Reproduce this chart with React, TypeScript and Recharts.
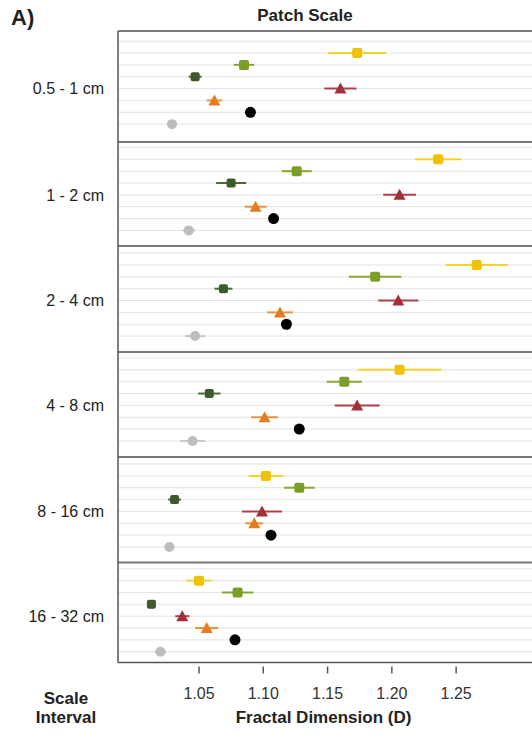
import { ScatterChart, Scatter, XAxis, YAxis, ZAxis, ErrorBar, ReferenceLine } from 'recharts'

const intervals = ['0.5 - 1 cm', '1 - 2 cm', '2 - 4 cm', '4 - 8 cm', '8 - 16 cm', '16 - 32 cm']
const xTicks = [1.05, 1.1, 1.15, 1.2, 1.25]

// fractal dimension per interval (top to bottom), and the half-width of each error bar
const yellowD = [1.173, 1.236, 1.266, 1.206, 1.102, 1.05]
const yellowErr = [0.0225, 0.018, 0.024, 0.0325, 0.0134, 0.0097]
const lightGreenD = [1.085, 1.126, 1.187, 1.163, 1.128, 1.08]
const lightGreenErr = [0.008, 0.0117, 0.0204, 0.0136, 0.012, 0.0123]
const darkGreenD = [1.047, 1.075, 1.069, 1.058, 1.031, 1.013]
const darkGreenErr = [0.005, 0.0117, 0.007, 0.0087, 0.005, 0.002]
const redD = [1.16, 1.206, 1.205, 1.173, 1.099, 1.037]
const redErr = [0.0125, 0.0127, 0.0156, 0.0175, 0.0156, 0.0055]
const orangeD = [1.062, 1.094, 1.113, 1.101, 1.093, 1.056]
const orangeErr = [0.006, 0.0085, 0.01, 0.0104, 0.007, 0.009]
const blackD = [1.09, 1.108, 1.118, 1.128, 1.106, 1.078]
const blackErr = [0.002, 0.002, 0.002, 0.002, 0.002, 0.002]
const greyD = [1.029, 1.042, 1.047, 1.045, 1.027, 1.02]
const greyErr = [0.004, 0.005, 0.0078, 0.0095, 0.004, 0.0045]

// vertical layout in row units (top = 0)
const panelTop = [0, 9.37, 18.14, 27.09, 35.95, 44.85]
const firstRow = [1.86, 10.83, 19.75, 28.6, 37.55, 46.39]
const yMax = 53.3

const FONT = '"Liberation Sans", Arial, sans-serif'

type ShapeProps = { cx?: number; cy?: number }

const square = (fill: string, s = 10) => (p: ShapeProps) =>
  <rect x={(p.cx ?? 0) - s / 2} y={(p.cy ?? 0) - s / 2} width={s} height={s} rx={2} fill={fill} />
const triangle = (fill: string) => (p: ShapeProps) => {
  const cx = p.cx ?? 0, cy = p.cy ?? 0
  return <polygon points={`${cx - 6},${cy + 5} ${cx + 6},${cy + 5} ${cx},${cy - 6}`} fill={fill} />
}
const circle = (fill: string, r = 5) => (p: ShapeProps) =>
  <circle cx={p.cx ?? 0} cy={p.cy ?? 0} r={r} fill={fill} />

const series = [
  { name: 'yellow', d: yellowD, e: yellowErr, color: '#f2c200', bar: '#f6d22e', shape: square('#f2c200') },
  { name: 'lightGreen', d: lightGreenD, e: lightGreenErr, color: '#7b9e28', bar: '#86a832', shape: square('#7b9e28') },
  { name: 'darkGreen', d: darkGreenD, e: darkGreenErr, color: '#3e5a2a', bar: '#4d6a36', shape: square('#3e5a2a', 9) },
  { name: 'red', d: redD, e: redErr, color: '#a2303a', bar: '#b04048', shape: triangle('#a2303a') },
  { name: 'orange', d: orangeD, e: orangeErr, color: '#e27d22', bar: '#eb9240', shape: triangle('#e27d22') },
  { name: 'black', d: blackD, e: blackErr, color: '#000000', bar: '#000000', shape: circle('#000000', 5.5) },
  { name: 'grey', d: greyD, e: greyErr, color: '#bdbdbd', bar: '#c8c8c8', shape: circle('#bdbdbd', 5) },
]

const labelTicks = firstRow.map(r => r + 3)
const gridRows = firstRow.flatMap(r => [-1, 0, 1, 2, 3, 4, 5, 6].map(i => r + i))

const XTick = ({ x, y, payload }: { x?: number; y?: number; payload?: { value: number } }) => (
  <g>
    <line x1={x} x2={x} y1={(y ?? 0) + 4} y2={(y ?? 0) + 11} stroke="#555" strokeWidth={1.5} />
    <text x={x} y={(y ?? 0) + 36} textAnchor="middle" fontSize={16} fill="#333" fontFamily={FONT}>
      {payload?.value.toFixed(2)}
    </text>
  </g>
)

export default function App() {
  return (
    <div style={{ position: 'absolute', left: 0, top: 0, width: 532, height: 740, overflow: 'hidden', background: '#fff' }}>
      <ScatterChart width={532} height={740} margin={{ top: 31, right: 0, bottom: 27.5, left: 0 }}>
        <XAxis type="number" dataKey="d" domain={[0.987, 1.309]} ticks={xTicks} allowDataOverflow
          height={50} tickSize={0} tickMargin={0} tickLine={false} tick={<XTick />}
          axisLine={{ stroke: '#555', strokeWidth: 1.5 }} />
        <YAxis type="number" dataKey="y" domain={[0, yMax]} reversed allowDataOverflow width={118}
          ticks={labelTicks} tickFormatter={v => intervals[labelTicks.indexOf(v)] ?? ''}
          tickLine={false} tickMargin={8} interval={0}
          tick={{ fontSize: 16, fill: '#222', fontFamily: FONT }}
          axisLine={{ stroke: '#555', strokeWidth: 1.5 }} />
        <ZAxis range={[60, 60]} />
        {gridRows.map(v => <ReferenceLine key={'g' + v} y={v} stroke="#e3e3e3" strokeWidth={1} />)}
        {panelTop.map(v => <ReferenceLine key={'p' + v} y={v} stroke="#7a7a7a" strokeWidth={2} />)}
        {series.map((s, i) => (
          <Scatter key={s.name} name={s.name} isAnimationActive={false} shape={s.shape} fill={s.color}
            data={intervals.map((_, k) => ({ d: s.d[k], err: s.e[k], y: firstRow[k] + i }))}>
            <ErrorBar dataKey="err" direction="x" width={0} stroke={s.bar} strokeWidth={2} isAnimationActive={false} />
          </Scatter>
        ))}
      </ScatterChart>
      <svg width={532} height={740} style={{ position: 'absolute', left: 0, top: 0, pointerEvents: 'none' }}
        fontFamily={FONT} fontWeight="bold" fill="#222">
        <text x={11} y={25} fontSize={22}>A)</text>
        <text x={305} y={20.5} fontSize={17} textAnchor="middle">Patch Scale</text>
        <text x={323.5} y={723} fontSize={17} textAnchor="middle">Fractal Dimension (D)</text>
        <text x={66} y={704} fontSize={17} textAnchor="middle">Scale</text>
        <text x={66} y={723} fontSize={17} textAnchor="middle">Interval</text>
      </svg>
    </div>
  )
}
